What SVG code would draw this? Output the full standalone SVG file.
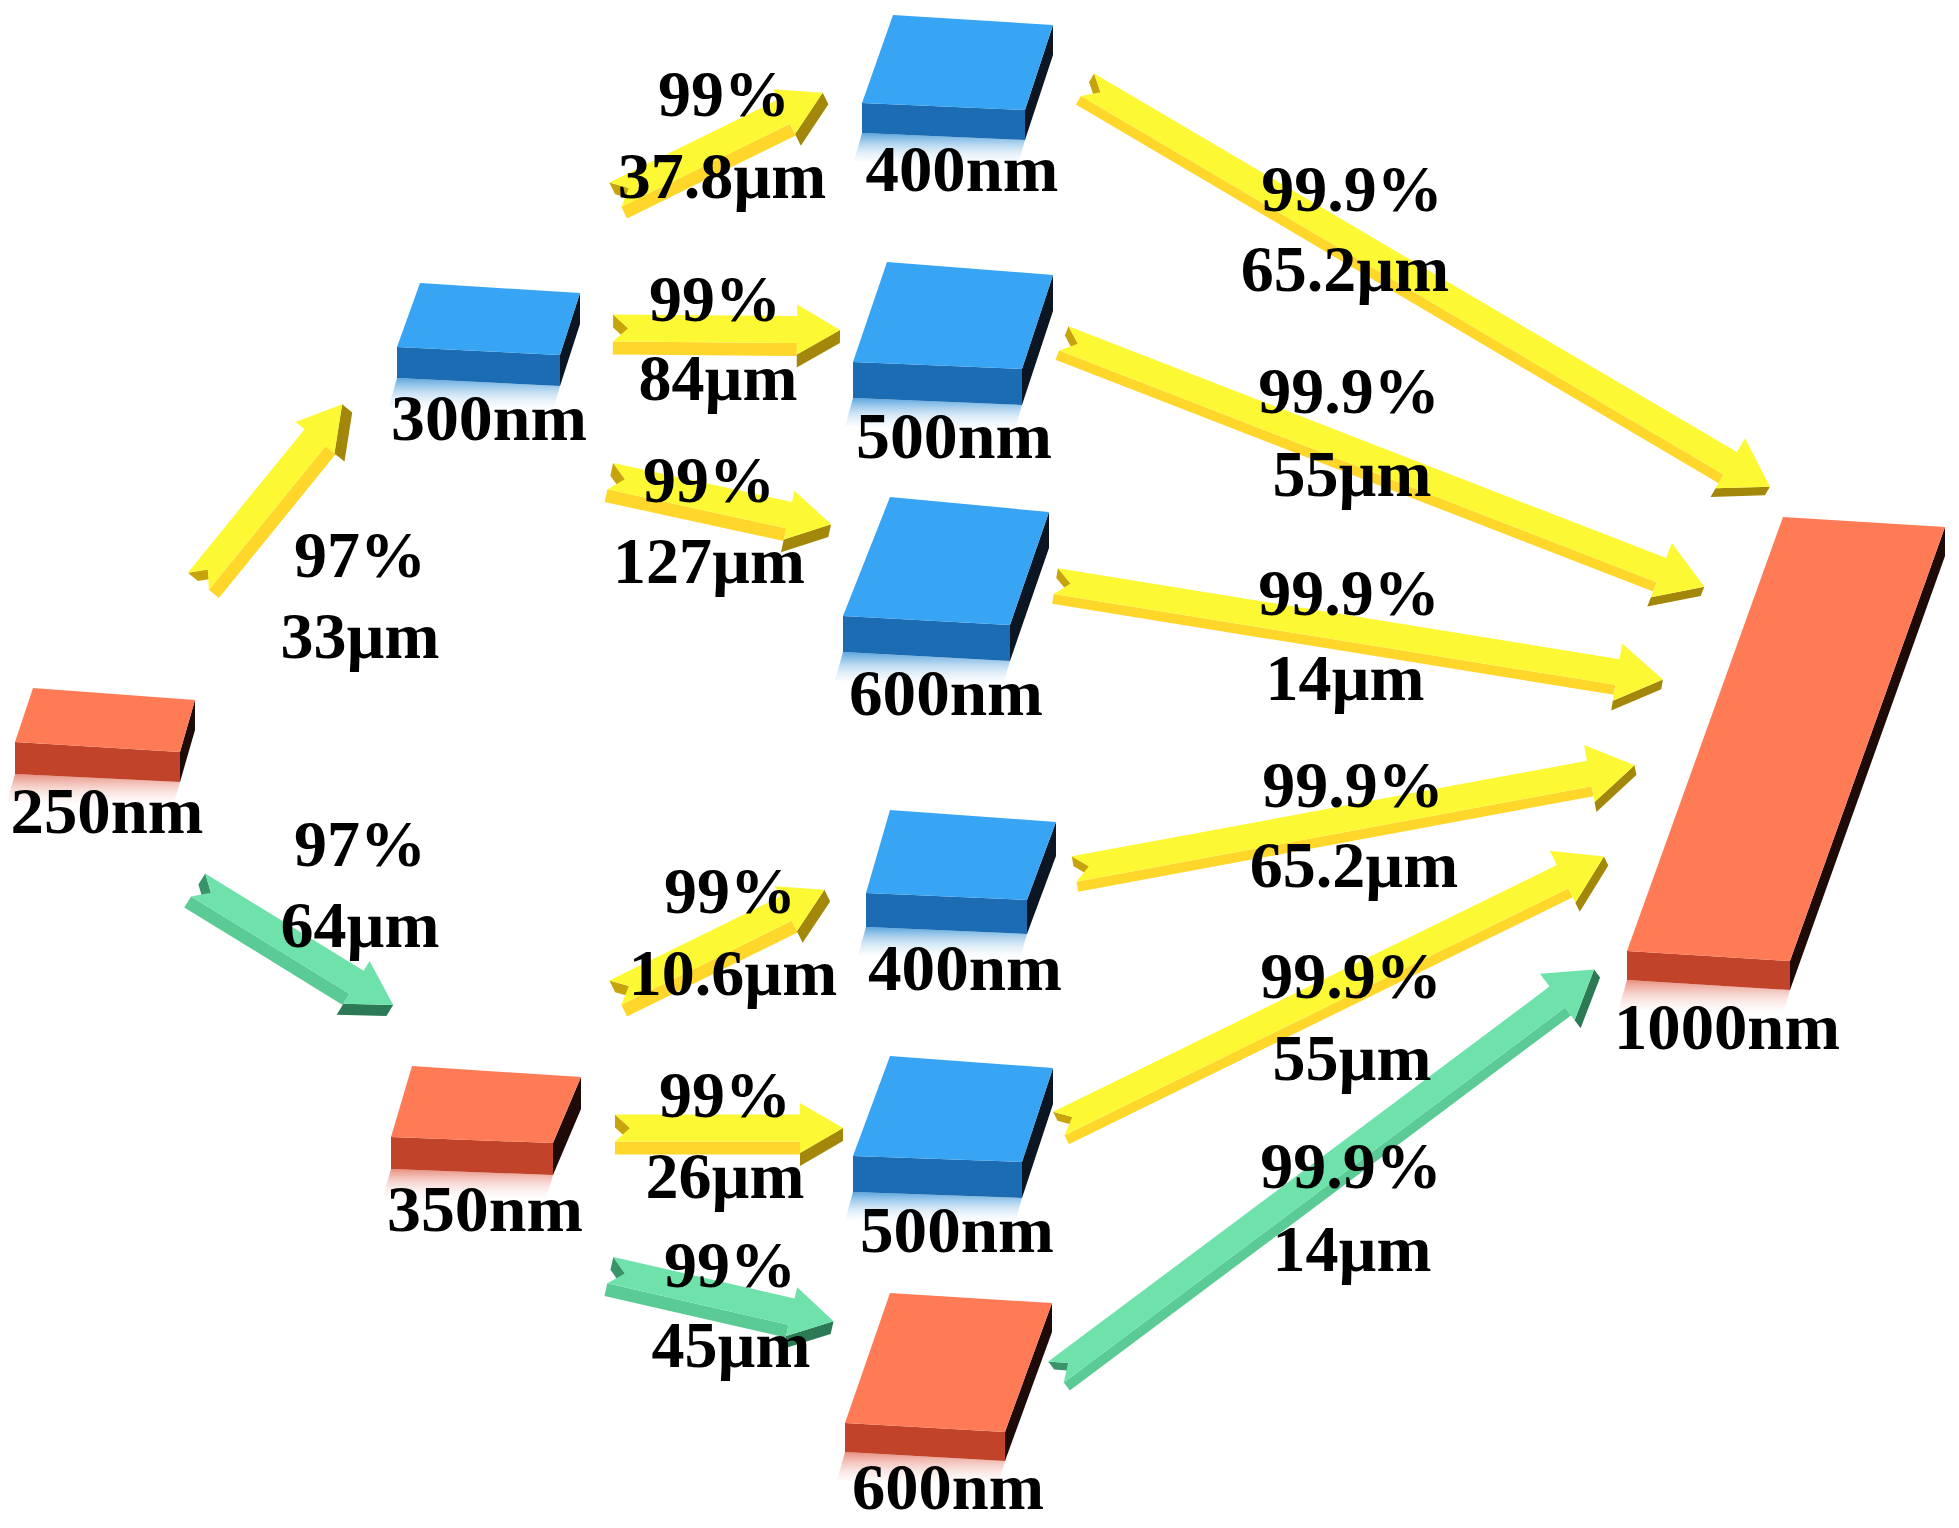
<svg xmlns="http://www.w3.org/2000/svg" width="1959" height="1528" viewBox="0 0 1959 1528">
<defs>
<linearGradient id="rb" x1="0" y1="0" x2="0" y2="1"><stop offset="0" stop-color="#3d95d8" stop-opacity="0.85"/><stop offset="1" stop-color="#ffffff" stop-opacity="0"/></linearGradient>
<linearGradient id="ro" x1="0" y1="0" x2="0" y2="1"><stop offset="0" stop-color="#e06a55" stop-opacity="0.75"/><stop offset="1" stop-color="#ffffff" stop-opacity="0"/></linearGradient>
<style>
.bt{fill:#37a5f4}.bf{fill:#1c6cb3}.bs{fill:#0b1622}.br{fill:url(#rb)}
.ot{fill:#ff7b55}.of{fill:#c0432a}.os{fill:#1e0a06}.or{fill:url(#ro)}
.yt{fill:#fcf934}.ys{fill:#ffd62a}.yh{fill:#a3870a}.yn{fill:#c8a40c}
.gt{fill:#6fe2ac}.gs{fill:#5bcb95}.gh{fill:#2b7a55}.gn{fill:#3a946a}
text{font-family:"Liberation Serif","Times New Roman",serif;font-weight:bold;font-size:66px;fill:#000;text-anchor:middle}
</style>
</defs>
<rect width="1959" height="1528" fill="#fff"/>
<g id="connectors">
<!-- short arrows: a=13.5 b=25 hl=43 d=13 -->
<g id="a1" transform="translate(203,585) rotate(-50.9) translate(0,-6)"><path class="yn" d="M0,-13.5L15,0L15,13L0,-0.5Z"/><path class="ys" d="M0,13.5L185,13.5L185,26.5L0,26.5Z"/><path class="yh" d="M185,25L228,0L228,13L185,38Z"/><path class="yt" d="M0,-13.5L185,-13.5L185,-25L228,0L185,25L185,13.5L0,13.5L15,0Z"/></g>
<g id="a2" transform="translate(195,890) rotate(31.6) translate(0,-6)"><path class="gn" d="M0,-13.5L15,0L15,13L0,-0.5Z"/><path class="gs" d="M0,13.5L186,13.5L186,26.5L0,26.5Z"/><path class="gh" d="M186,25L229,0L229,13L186,38Z"/><path class="gt" d="M0,-13.5L186,-13.5L186,-25L229,0L186,25L186,13.5L0,13.5L15,0Z"/></g>
<g id="a3" transform="translate(618,200) rotate(-26.2) translate(0,-6)"><path class="yn" d="M0,-13.5L15,0L15,13L0,-0.5Z"/><path class="ys" d="M0,13.5L188,13.5L188,26.5L0,26.5Z"/><path class="yh" d="M188,25L231,0L231,13L188,38Z"/><path class="yt" d="M0,-13.5L188,-13.5L188,-25L231,0L188,25L188,13.5L0,13.5L15,0Z"/></g>
<g id="a4" transform="translate(613,334) rotate(0.5) translate(0,-6)"><path class="yn" d="M0,-13.5L15,0L15,13L0,-0.5Z"/><path class="ys" d="M0,13.5L184,13.5L184,26.5L0,26.5Z"/><path class="yh" d="M184,25L227,0L227,13L184,38Z"/><path class="yt" d="M0,-13.5L184,-13.5L184,-25L227,0L184,25L184,13.5L0,13.5L15,0Z"/></g>
<g id="a5" transform="translate(609,482) rotate(12.3) translate(0,-6)"><path class="yn" d="M0,-13.5L15,0L15,13L0,-0.5Z"/><path class="ys" d="M0,13.5L183,13.5L183,26.5L0,26.5Z"/><path class="yh" d="M183,25L226,0L226,13L183,38Z"/><path class="yt" d="M0,-13.5L183,-13.5L183,-25L226,0L183,25L183,13.5L0,13.5L15,0Z"/></g>
<g id="a12" transform="translate(618,998) rotate(-26.2) translate(0,-6)"><path class="yn" d="M0,-13.5L15,0L15,13L0,-0.5Z"/><path class="ys" d="M0,13.5L190,13.5L190,26.5L0,26.5Z"/><path class="yh" d="M190,25L233,0L233,13L190,38Z"/><path class="yt" d="M0,-13.5L190,-13.5L190,-25L233,0L190,25L190,13.5L0,13.5L15,0Z"/></g>
<g id="a13" transform="translate(615,1134) rotate(0) translate(0,-6)"><path class="yn" d="M0,-13.5L15,0L15,13L0,-0.5Z"/><path class="ys" d="M0,13.5L185,13.5L185,26.5L0,26.5Z"/><path class="yh" d="M185,25L228,0L228,13L185,38Z"/><path class="yt" d="M0,-13.5L185,-13.5L185,-25L228,0L185,25L185,13.5L0,13.5L15,0Z"/></g>
<g id="a14" transform="translate(609,1276) rotate(12.9) translate(0,-6)"><path class="gn" d="M0,-13.5L15,0L15,13L0,-0.5Z"/><path class="gs" d="M0,13.5L186,13.5L186,26.5L0,26.5Z"/><path class="gh" d="M186,25L229,0L229,13L186,38Z"/><path class="gt" d="M0,-13.5L186,-13.5L186,-25L229,0L186,25L186,13.5L0,13.5L15,0Z"/></g>
<!-- long arrows: a=13 b=29 hl=46 d=10 -->
<g id="a6" transform="translate(1085,89) rotate(30.5) translate(0,-5)"><path class="yn" d="M0,-13L15,0L15,10L0,-3Z"/><path class="ys" d="M0,13L746,13L746,23L0,23Z"/><path class="yh" d="M746,29L792,0L792,10L746,39Z"/><path class="yt" d="M0,-13L746,-13L746,-29L792,0L746,29L746,13L0,13L15,0Z"/></g>
<g id="a7" transform="translate(1062,343) rotate(21.2) translate(0,-5)"><path class="yn" d="M0,-13L15,0L15,10L0,-3Z"/><path class="ys" d="M0,13L641,13L641,23L0,23Z"/><path class="yh" d="M641,29L687,0L687,10L641,39Z"/><path class="yt" d="M0,-13L641,-13L641,-29L687,0L641,29L641,13L0,13L15,0Z"/></g>
<g id="a8" transform="translate(1055,586) rotate(9.2) translate(0,-5)"><path class="yn" d="M0,-13L15,0L15,10L0,-3Z"/><path class="ys" d="M0,13L569,13L569,23L0,23Z"/><path class="yh" d="M569,29L615,0L615,10L569,39Z"/><path class="yt" d="M0,-13L569,-13L569,-29L615,0L569,29L569,13L0,13L15,0Z"/></g>
<g id="a9" transform="translate(1075,874) rotate(-10.5) translate(0,-5)"><path class="yn" d="M0,-13L15,0L15,10L0,-3Z"/><path class="ys" d="M0,13L524,13L524,23L0,23Z"/><path class="yh" d="M524,29L570,0L570,10L524,39Z"/><path class="yt" d="M0,-13L524,-13L524,-29L570,0L524,29L524,13L0,13L15,0Z"/></g>
<g id="a10" transform="translate(1061,1128) rotate(-26.1) translate(0,-5)"><path class="yn" d="M0,-13L15,0L15,10L0,-3Z"/><path class="ys" d="M0,13L561,13L561,23L0,23Z"/><path class="yh" d="M561,29L607,0L607,10L561,39Z"/><path class="yt" d="M0,-13L561,-13L561,-29L607,0L561,29L561,13L0,13L15,0Z"/></g>
<g id="a11" transform="translate(1059,1376) rotate(-36.8) translate(0,-5)"><path class="gn" d="M0,-13L15,0L15,10L0,-3Z"/><path class="gs" d="M0,13L626,13L626,23L0,23Z"/><path class="gh" d="M626,29L672,0L672,10L626,39Z"/><path class="gt" d="M0,-13L626,-13L626,-29L672,0L626,29L626,13L0,13L15,0Z"/></g>
</g>
<g id="nodes">
<g id="n250"><polygon class="or" points="15,774 180,782 172,810 7,802"/><polygon class="os" points="195,700 180,752 180,782 195,730"/><polygon class="of" points="15,742 180,752 180,782 15,774"/><polygon class="ot" points="33,688 195,700 180,752 15,742"/><text x="107" y="833" textLength="193" lengthAdjust="spacingAndGlyphs">250nm</text></g>
<g id="n300"><polygon class="br" points="397,378 560,386 552,414 389,406"/><polygon class="bs" points="580,293 560,355 560,386 580,324"/><polygon class="bf" points="397,347 560,355 560,386 397,378"/><polygon class="bt" points="420,283 580,293 560,355 397,347"/><text x="489" y="440" textLength="196" lengthAdjust="spacingAndGlyphs">300nm</text></g>
<g id="n350"><polygon class="or" points="391,1169 553,1175 545,1203 383,1197"/><polygon class="os" points="581,1077 553,1143 553,1175 581,1109"/><polygon class="of" points="391,1137 553,1143 553,1175 391,1169"/><polygon class="ot" points="412,1066 581,1077 553,1143 391,1137"/><text x="485" y="1231" textLength="196" lengthAdjust="spacingAndGlyphs">350nm</text></g>
<g id="n400a"><polygon class="br" points="862,133 1025,140 1017,168 854,161"/><polygon class="bs" points="1053,25 1025,110 1025,140 1053,55"/><polygon class="bf" points="862,103 1025,110 1025,140 862,133"/><polygon class="bt" points="893,15 1053,25 1025,110 862,103"/><text x="962" y="191" textLength="193" lengthAdjust="spacingAndGlyphs">400nm</text></g>
<g id="n500a"><polygon class="br" points="853,398 1022,405 1014,433 845,426"/><polygon class="bs" points="1053,275 1022,369 1022,405 1053,311"/><polygon class="bf" points="853,362 1022,369 1022,405 853,398"/><polygon class="bt" points="887,262 1053,275 1022,369 853,362"/><text x="954" y="458" textLength="196" lengthAdjust="spacingAndGlyphs">500nm</text></g>
<g id="n600b"><polygon class="br" points="843,652 1010,661 1002,689 835,680"/><polygon class="bs" points="1049,512 1010,625 1010,661 1049,548"/><polygon class="bf" points="843,616 1010,625 1010,661 843,652"/><polygon class="bt" points="890,497 1049,512 1010,625 843,616"/><text x="946" y="715" textLength="194" lengthAdjust="spacingAndGlyphs">600nm</text></g>
<g id="n400b"><polygon class="br" points="866,927 1027,934 1019,962 858,955"/><polygon class="bs" points="1056,822 1027,900 1027,934 1056,856"/><polygon class="bf" points="866,893 1027,900 1027,934 866,927"/><polygon class="bt" points="890,810 1056,822 1027,900 866,893"/><text x="965" y="990" textLength="194" lengthAdjust="spacingAndGlyphs">400nm</text></g>
<g id="n500b"><polygon class="br" points="853,1192 1022,1198 1014,1226 845,1220"/><polygon class="bs" points="1053,1068 1022,1162 1022,1198 1053,1104"/><polygon class="bf" points="853,1156 1022,1162 1022,1198 853,1192"/><polygon class="bt" points="890,1056 1053,1068 1022,1162 853,1156"/><text x="957" y="1252" textLength="194" lengthAdjust="spacingAndGlyphs">500nm</text></g>
<g id="n600o"><polygon class="or" points="845,1452 1005,1461 997,1489 837,1480"/><polygon class="os" points="1052,1303 1005,1432 1005,1461 1052,1332"/><polygon class="of" points="845,1423 1005,1432 1005,1461 845,1452"/><polygon class="ot" points="890,1293 1052,1303 1005,1432 845,1423"/><text x="948" y="1509" textLength="192" lengthAdjust="spacingAndGlyphs">600nm</text></g>
<g id="n1000"><polygon class="or" points="1627,980 1790,990 1782,1018 1619,1008"/><polygon class="os" points="1945,527 1790,961 1790,990 1945,556"/><polygon class="of" points="1627,951 1790,961 1790,990 1627,980"/><polygon class="ot" points="1783,517 1945,527 1790,961 1627,951"/><text x="1727" y="1049" textLength="226" lengthAdjust="spacingAndGlyphs">1000nm</text></g>
</g>
<g id="edge-labels">
<text x="360" y="577">97%</text><text x="360" y="658">33µm</text>
<text x="360" y="866">97%</text><text x="360" y="947">64µm</text>
<text x="724" y="116">99%</text><text x="722" y="198">37.8µm</text>
<text x="715" y="321">99%</text><text x="718" y="400">84µm</text>
<text x="709" y="502">99%</text><text x="709" y="583">127µm</text>
<text x="730" y="913">99%</text><text x="733" y="995">10.6µm</text>
<text x="725" y="1117">99%</text><text x="725" y="1198">26µm</text>
<text x="730" y="1287">99%</text><text x="731" y="1367">45µm</text>
<text x="1352" y="211">99.9%</text><text x="1345" y="291">65.2µm</text>
<text x="1349" y="413">99.9%</text><text x="1352" y="496">55µm</text>
<text x="1349" y="615">99.9%</text><text x="1345" y="700">14µm</text>
<text x="1353" y="807">99.9%</text><text x="1354" y="887">65.2µm</text>
<text x="1351" y="998">99.9%</text><text x="1352" y="1080">55µm</text>
<text x="1351" y="1188">99.9%</text><text x="1352" y="1271">14µm</text>
</g>
</svg>
